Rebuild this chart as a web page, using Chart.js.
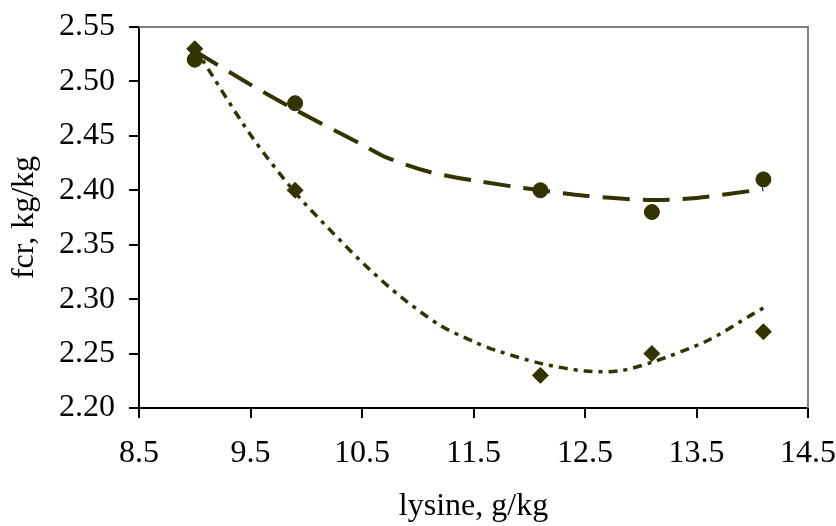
<!DOCTYPE html>
<html>
<head>
<meta charset="utf-8">
<script src="https://cdn.jsdelivr.net/npm/chart.js@4"></script>
<style>
  html, body { margin: 0; padding: 0; background: #fff; }
  #wrap { width: 836px; height: 526px; }
</style>
</head>
<body>
<div id="wrap"><canvas id="myChart"></canvas></div>
<script>
// measured points
let lysine = [9.0, 9.9, 12.1, 13.1, 14.1];
let fcrCircle = [2.52, 2.48, 2.40, 2.38, 2.41];
let fcrDiamond = [2.53, 2.40, 2.23, 2.25, 2.27];

// trend lines
let trendCircleX = [9.0, 9.5, 9.9, 10.5, 10.7, 11.1, 11.5, 12.1, 12.5, 13.1, 13.5, 14.1];
let trendCircleY = [2.528, 2.497, 2.474, 2.442, 2.431, 2.417, 2.409, 2.400, 2.395, 2.391, 2.393, 2.401];
let trendDiamondX = [9.0, 9.5, 9.9, 10.2, 10.55, 10.85, 11.2, 11.5, 11.7, 12.1, 12.5, 12.8, 13.1, 13.6, 14.0, 14.1];
let trendDiamondY = [2.531, 2.451, 2.398, 2.365, 2.329, 2.302, 2.276, 2.261, 2.253, 2.241, 2.234, 2.234, 2.242, 2.262, 2.286, 2.292];

let xTicks = [8.5, 9.5, 10.5, 11.5, 12.5, 13.5, 14.5];
let yTicks = [2.20, 2.25, 2.30, 2.35, 2.40, 2.45, 2.50, 2.55];

let ink = '#333300';

function toPoints(xs, ys) {
    return xs.map((x, i) => ({x: x, y: ys[i]}));
}

// grey top and right frame like the excel plot area
let frame = {
    id: 'frame',
    afterDraw(chart) {
        let a = chart.chartArea;
        let c = chart.ctx;
        c.save();
        c.strokeStyle = '#808080';
        c.lineWidth = 2;
        c.beginPath();
        c.moveTo(a.left, a.top);
        c.lineTo(a.right, a.top);
        c.lineTo(a.right, a.bottom);
        c.stroke();
        c.restore();
    }
};

let font = {family: '"Liberation Serif", "Times New Roman", serif', size: 32};

let ctx = document.getElementById('myChart').getContext('2d');
let myChart = new Chart(ctx, {
    type: 'scatter',
    data: {
        datasets: [{
            data: toPoints(trendCircleX, trendCircleY),
            showLine: true,
            borderColor: ink,
            borderWidth: 4,
            borderDash: [27, 13],
            pointRadius: 0,
            tension: 0.3
        }, {
            data: toPoints(trendDiamondX, trendDiamondY),
            showLine: true,
            borderColor: ink,
            borderWidth: 3.5,
            borderDash: [9, 6, 4, 6],
            pointRadius: 0,
            tension: 0.3
        }, {
            data: toPoints(lysine, fcrCircle),
            pointStyle: 'circle',
            pointRadius: 7.5,
            backgroundColor: ink,
            borderColor: ink,
            borderWidth: 1
        }, {
            data: toPoints(lysine, fcrDiamond),
            pointStyle: 'rectRot',
            pointRadius: 8,
            backgroundColor: ink,
            borderColor: ink,
            borderWidth: 1
        }]
    },
    options: {
        responsive: true,
        maintainAspectRatio: false,
        animation: false,
        layout: {padding: {top: 27, right: 28, left: 0, bottom: 0}},
        plugins: {legend: {display: false}, tooltip: {enabled: false}},
        scales: {
            x: {
                type: 'linear',
                min: 8.5,
                max: 14.5,
                afterBuildTicks: (scale) => { scale.ticks = xTicks.map(v => ({value: v})); },
                afterFit: (scale) => {
                    scale.height = 118;
                    scale.paddingLeft = 0;
                    scale.paddingRight = 0;
                },
                grid: {drawOnChartArea: false, color: '#000', tickLength: 10, lineWidth: 2},
                border: {color: '#000', width: 2},
                ticks: {color: '#000', font: font, padding: 16, maxRotation: 0,
                    callback: (v) => v.toFixed(1)},
                title: {display: true, text: 'lysine, g/kg', color: '#000', font: font,
                    padding: {top: 0, bottom: 0}}
            },
            y: {
                min: 2.2,
                max: 2.55,
                afterBuildTicks: (scale) => { scale.ticks = yTicks.map(v => ({value: v})); },
                afterFit: (scale) => {
                    scale.width = 139;
                    scale.paddingTop = 0;
                    scale.paddingBottom = 0;
                },
                grid: {drawOnChartArea: false, color: '#000', tickLength: 10, lineWidth: 2},
                border: {color: '#000', width: 2},
                ticks: {color: '#000', font: font, padding: 14,
                    callback: (v) => v.toFixed(2)},
                title: {display: true, text: 'fcr, kg/kg', color: '#000', font: font,
                    padding: {top: 5, bottom: 0}}
            }
        }
    },
    plugins: [frame]
});
</script>
</body>
</html>
